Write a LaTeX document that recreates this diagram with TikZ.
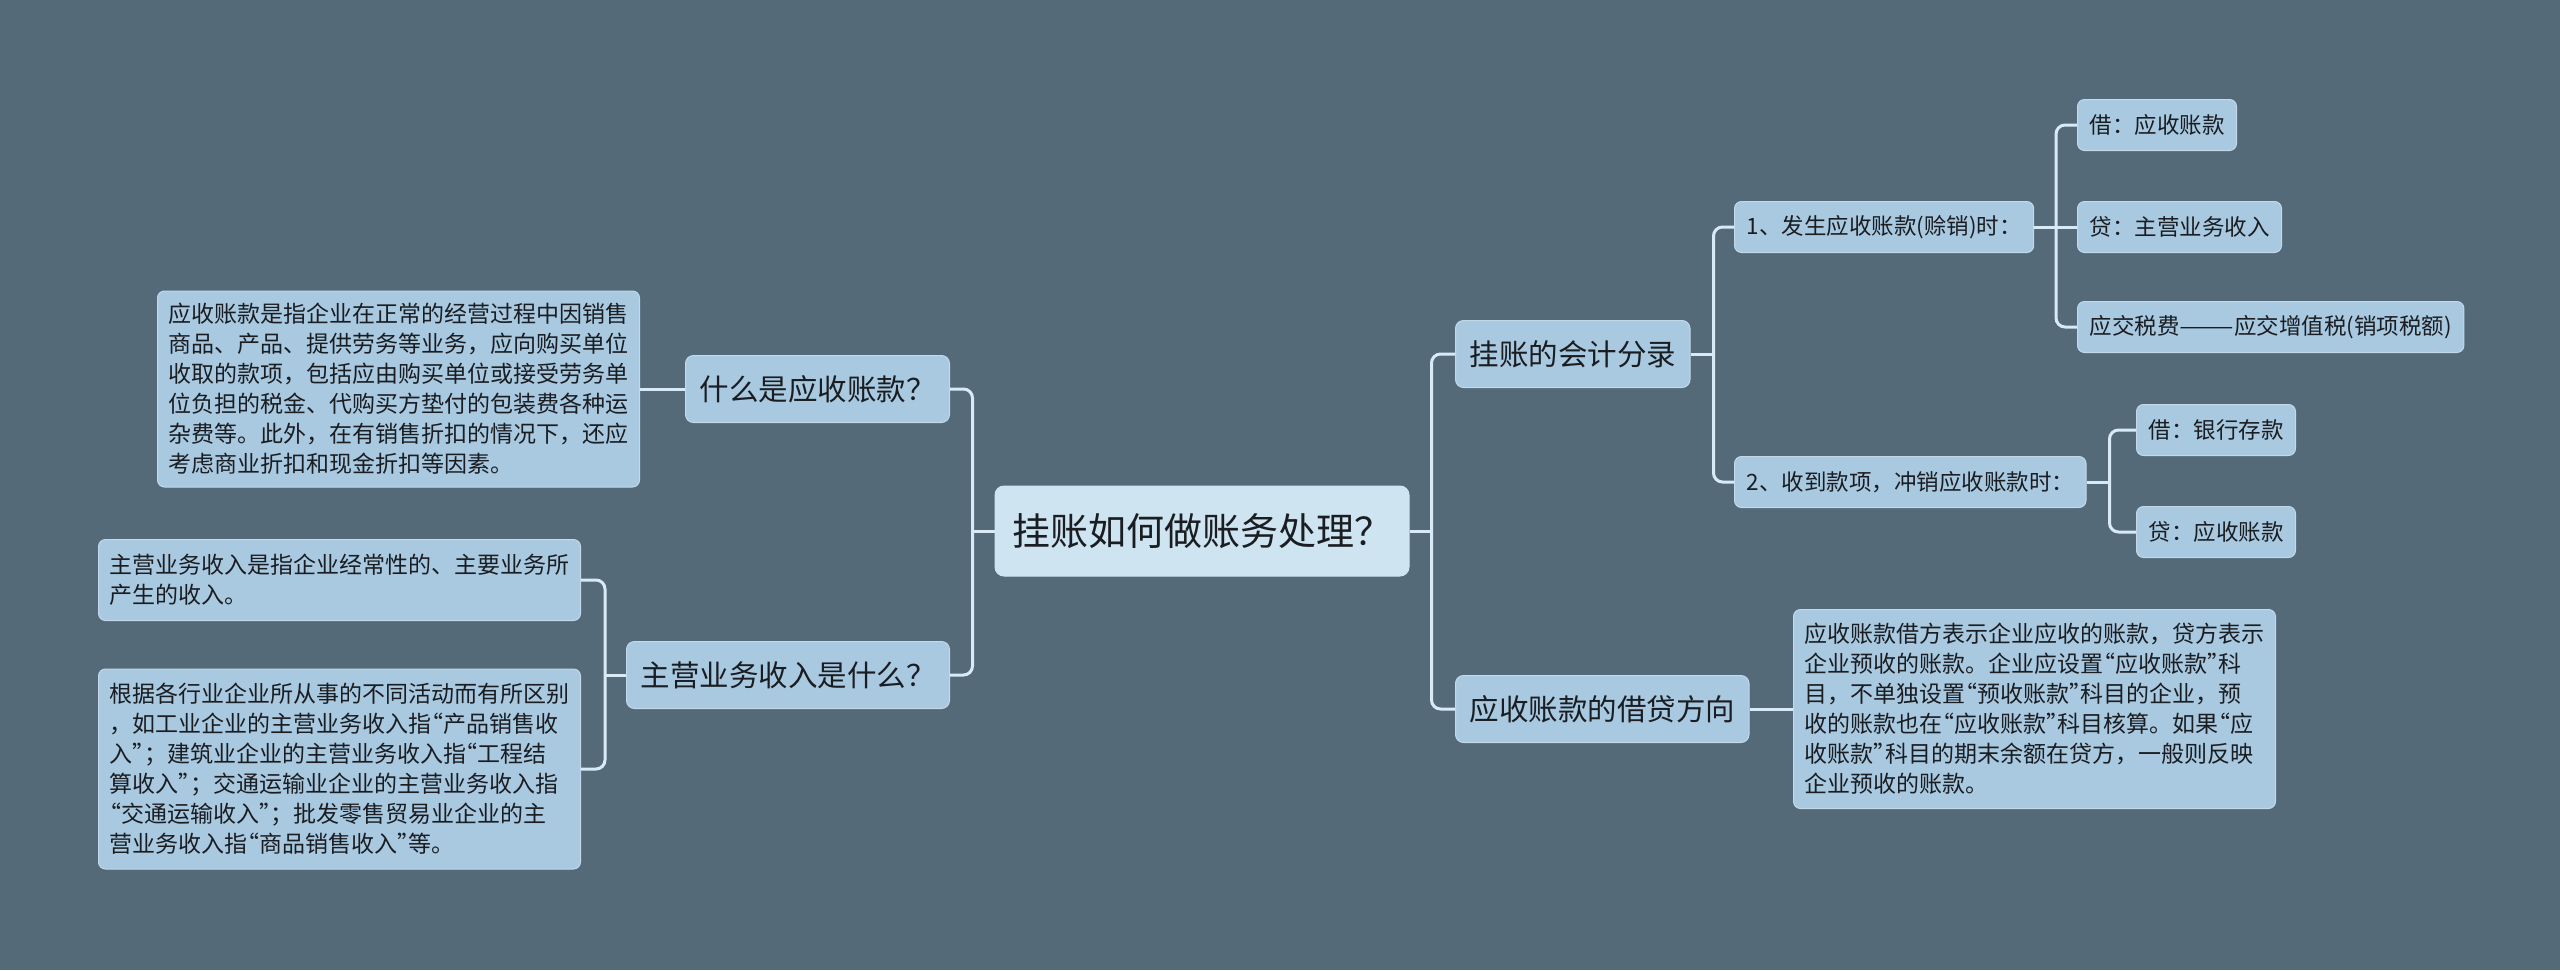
\documentclass[tikz,border=0pt]{standalone}
\usepackage{fontspec}
\usepackage{graphicx}
\newfontfamily\cjk{Noto Sans CJK SC}
\newcommand\qopen{\makebox[0.5em][r]{“}}
\newcommand\qclose{\makebox[0.5em][l]{”}}
\definecolor{bgcol}{HTML}{546A79}
\definecolor{boxcol}{HTML}{A9C9E1}
\definecolor{rootcol}{HTML}{CFE4F1}
\definecolor{linecol}{HTML}{D8EAF6}
\definecolor{txtcol}{HTML}{1A1D21}

\begin{document}
\begin{tikzpicture}[x=1pt, y=-1pt,
    box/.style={fill=boxcol, draw=boxcol!70!white, line width=1pt, rounded corners=7pt, text=txtcol},
    rootbox/.style={box, fill=rootcol, draw=rootcol, font=\cjk\fontsize{38}{46}\selectfont, inner xsep=17pt, minimum height=90pt, rounded corners=9pt},
    topic/.style={box, font=\cjk\fontsize{29.5}{36}\selectfont, inner xsep=14pt, minimum height=67pt, rounded corners=8pt},
    sub/.style={box, font=\cjk\fontsize{22.5}{28}\selectfont, inner xsep=12pt, minimum height=51pt},
    note/.style={box, font=\cjk\fontsize{23}{30}\selectfont, align=left, inner xsep=11pt},
    link/.style={draw=linecol, line width=3pt, rounded corners=9pt}]

    % Background
    \fill[bgcol] (0,0) rectangle (2560,970);

    % Root
    \node[rootbox] (root) at (1202,531) {挂账如何做账务处理？};

    % Left branches
    \node[topic, anchor=east] (what) at (950,389) {什么是应收账款？};
    \node[note, anchor=east, minimum height=196pt] (whatnote) at (640,389)
        {应收账款是指企业在正常的经营过程中因销售\\商品、产品、提供劳务等业务，应向购买单位\\收取的款项，包括应由购买单位或接受劳务单\\位负担的税金、代购买方垫付的包装费各种运\\杂费等。此外，在有销售折扣的情况下，还应\\考虑商业折扣和现金折扣等因素。};

    \node[topic, anchor=east] (income) at (950,675) {主营业务收入是什么？};
    \node[note, anchor=east, minimum height=81pt] (incomea) at (581,580)
        {主营业务收入是指企业经常性的、主要业务所\\产生的收入。};
    \node[note, anchor=east, minimum height=200pt] (incomeb) at (581,769)
        {根据各行业企业所从事的不同活动而有所区别\\，如工业企业的主营业务收入指\qopen 产品销售收\\入\qclose；建筑业企业的主营业务收入指\qopen 工程结\\算收入\qclose；交通运输业企业的主营业务收入指\\\qopen 交通运输收入\qclose；批发零售贸易业企业的主\\营业务收入指\qopen 商品销售收入\qclose 等。};

    % Right branches
    \node[topic, anchor=west] (entry) at (1455,354) {挂账的会计分录};
    \node[sub, anchor=west] (sale) at (1734,227) {1、发生应收账款(赊销)时：};
    \node[sub, anchor=west] (saledr) at (2077,125) {借：应收账款};
    \node[sub, anchor=west] (salecr) at (2077,227) {贷：主营业务收入};
    \node[sub, anchor=west] (saletax) at (2077,327) {应交税费\scalebox{1.45}[1]{——}应交增值税(销项税额)};

    \node[sub, anchor=west] (pay) at (1734,482) {2、收到款项，冲销应收账款时：};
    \node[sub, anchor=west] (paydr) at (2136,430) {借：银行存款};
    \node[sub, anchor=west] (paycr) at (2136,532) {贷：应收账款};

    \node[topic, anchor=west] (side) at (1455,709) {应收账款的借贷方向};
    \node[note, anchor=west, minimum height=199pt] (sidenote) at (1793,709)
        {应收账款借方表示企业应收的账款，贷方表示\\企业预收的账款。企业应设置\qopen 应收账款\qclose 科\\目，不单独设置\qopen 预收账款\qclose 科目的企业，预\\收的账款也在\qopen 应收账款\qclose 科目核算。如果\qopen 应\\收账款\qclose 科目的期末余额在贷方，一般则反映\\企业预收的账款。};

    % Connectors
    \draw[link] (root.west) -- ++(-22,0) coordinate (busl);
    \draw[link] (busl) |- (what.east);
    \draw[link] (busl) |- (income.east);
    \draw[link] (what.west) -- (whatnote.east);

    \draw[link] (income.west) -- ++(-21,0) coordinate (busi);
    \draw[link] (busi) |- (incomea.east);
    \draw[link] (busi) |- (incomeb.east);

    \draw[link] (root.east) -- ++(22,0) coordinate (busr);
    \draw[link] (busr) |- (entry.west);
    \draw[link] (busr) |- (side.west);
    \draw[link] (side.east) -- (sidenote.west);

    \draw[link] (entry.east) -- ++(23,0) coordinate (buse);
    \draw[link] (buse) |- (sale.west);
    \draw[link] (buse) |- (pay.west);

    \draw[link] (sale.east) -- (salecr.west);
    \path (salecr.west) ++(-21,0) coordinate (buss);
    \draw[link] (buss) |- (saledr.west);
    \draw[link] (buss) |- (saletax.west);

    \draw[link] (pay.east) -- ++(23,0) coordinate (busp);
    \draw[link] (busp) |- (paydr.west);
    \draw[link] (busp) |- (paycr.west);
\end{tikzpicture}
\end{document}
